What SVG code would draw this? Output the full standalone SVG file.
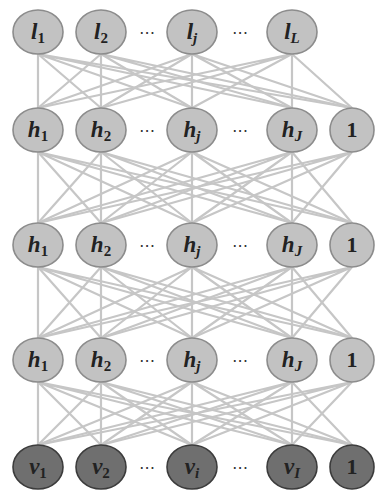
<svg xmlns="http://www.w3.org/2000/svg" width="378" height="491" viewBox="0 0 378 491">
  <style>
    .edge { stroke: #c6c6c6; stroke-width: 2.2; fill: none; }
    .hid ellipse { fill: #c2c2c2; stroke: #8c8c8c; stroke-width: 1.6; }
    .vis ellipse { fill: #6f6f6f; stroke: #3c3c3c; stroke-width: 1.6; }
    .lbl { font-family: "Liberation Serif", "DejaVu Serif", serif; font-style: italic; font-weight: bold; font-size: 23px; fill: #222; text-anchor: middle; }
    .one { font-family: "Liberation Serif", "DejaVu Serif", serif; font-weight: bold; font-size: 22px; fill: #222; text-anchor: middle; }
    .sub { font-size: 15px; }
    .num { font-style: normal; }
    .dots { font-family: "DejaVu Sans", sans-serif; font-size: 16px; fill: #333; text-anchor: middle; }
  </style>
  <rect width="378" height="491" fill="#ffffff"/>

  <!-- connectors: every unit of one layer to every unit of the next (bias not linked to bias) -->
  <g id="connectors">
    <!-- l layer to first h layer -->
    <path class="edge" d="M38 54L38 108M38 54L101 108M38 54L192 108M38 54L292 108M38 54L352 108"/>
    <path class="edge" d="M101 54L38 108M101 54L101 108M101 54L192 108M101 54L292 108M101 54L352 108"/>
    <path class="edge" d="M192 54L38 108M192 54L101 108M192 54L192 108M192 54L292 108M192 54L352 108"/>
    <path class="edge" d="M292 54L38 108M292 54L101 108M292 54L192 108M292 54L292 108M292 54L352 108"/>
    <!-- h layer 1 to h layer 2 -->
    <path class="edge" d="M38 152L38 223M38 152L101 223M38 152L192 223M38 152L292 223M38 152L352 223"/>
    <path class="edge" d="M101 152L38 223M101 152L101 223M101 152L192 223M101 152L292 223M101 152L352 223"/>
    <path class="edge" d="M192 152L38 223M192 152L101 223M192 152L192 223M192 152L292 223M192 152L352 223"/>
    <path class="edge" d="M292 152L38 223M292 152L101 223M292 152L192 223M292 152L292 223M292 152L352 223"/>
    <path class="edge" d="M352 152L38 223M352 152L101 223M352 152L192 223M352 152L292 223"/>
    <!-- h layer 2 to h layer 3 -->
    <path class="edge" d="M38 267L38 338M38 267L101 338M38 267L192 338M38 267L292 338M38 267L352 338"/>
    <path class="edge" d="M101 267L38 338M101 267L101 338M101 267L192 338M101 267L292 338M101 267L352 338"/>
    <path class="edge" d="M192 267L38 338M192 267L101 338M192 267L192 338M192 267L292 338M192 267L352 338"/>
    <path class="edge" d="M292 267L38 338M292 267L101 338M292 267L192 338M292 267L292 338M292 267L352 338"/>
    <path class="edge" d="M352 267L38 338M352 267L101 338M352 267L192 338M352 267L292 338"/>
    <!-- h layer 3 to visible layer -->
    <path class="edge" d="M38 382L38 445M38 382L101 445M38 382L192 445M38 382L292 445M38 382L352 445"/>
    <path class="edge" d="M101 382L38 445M101 382L101 445M101 382L192 445M101 382L292 445M101 382L352 445"/>
    <path class="edge" d="M192 382L38 445M192 382L101 445M192 382L192 445M192 382L292 445M192 382L352 445"/>
    <path class="edge" d="M292 382L38 445M292 382L101 445M292 382L192 445M292 382L292 445M292 382L352 445"/>
    <path class="edge" d="M352 382L38 445M352 382L101 445M352 382L192 445M352 382L292 445"/>
  </g>

  <!-- top layer l -->
  <g id="l1" class="hid"><ellipse cx="38" cy="32" rx="25" ry="22"/><text class="lbl" x="38" y="39">l<tspan class="sub num" dy="4">1</tspan></text></g>
  <g id="l2" class="hid"><ellipse cx="101" cy="32" rx="25" ry="22"/><text class="lbl" x="101" y="39">l<tspan class="sub num" dy="4">2</tspan></text></g>
  <g id="lj" class="hid"><ellipse cx="192" cy="32" rx="25" ry="22"/><text class="lbl" x="192" y="39">l<tspan class="sub" dy="4">j</tspan></text></g>
  <g id="lL" class="hid"><ellipse cx="292" cy="32" rx="25" ry="22"/><text class="lbl" x="292" y="39">l<tspan class="sub" dy="4">L</tspan></text></g>
  <text class="dots" x="147" y="38">⋯</text>
  <text class="dots" x="240" y="38">⋯</text>

  <!-- hidden layer 1 -->
  <g id="h1-1" class="hid"><ellipse cx="38" cy="130" rx="25" ry="22"/><text class="lbl" x="38" y="137">h<tspan class="sub num" dy="4">1</tspan></text></g>
  <g id="h1-2" class="hid"><ellipse cx="101" cy="130" rx="25" ry="22"/><text class="lbl" x="101" y="137">h<tspan class="sub num" dy="4">2</tspan></text></g>
  <g id="h1-j" class="hid"><ellipse cx="192" cy="130" rx="25" ry="22"/><text class="lbl" x="192" y="137">h<tspan class="sub" dy="4">j</tspan></text></g>
  <g id="h1-J" class="hid"><ellipse cx="292" cy="130" rx="25" ry="22"/><text class="lbl" x="292" y="137">h<tspan class="sub" dy="4">J</tspan></text></g>
  <g id="h1-bias" class="hid"><ellipse cx="352" cy="130" rx="22" ry="22"/><text class="one" x="352" y="137">1</text></g>
  <text class="dots" x="147" y="136">⋯</text>
  <text class="dots" x="240" y="136">⋯</text>

  <!-- hidden layer 2 -->
  <g id="h2-1" class="hid"><ellipse cx="38" cy="245" rx="25" ry="22"/><text class="lbl" x="38" y="252">h<tspan class="sub num" dy="4">1</tspan></text></g>
  <g id="h2-2" class="hid"><ellipse cx="101" cy="245" rx="25" ry="22"/><text class="lbl" x="101" y="252">h<tspan class="sub num" dy="4">2</tspan></text></g>
  <g id="h2-j" class="hid"><ellipse cx="192" cy="245" rx="25" ry="22"/><text class="lbl" x="192" y="252">h<tspan class="sub" dy="4">j</tspan></text></g>
  <g id="h2-J" class="hid"><ellipse cx="292" cy="245" rx="25" ry="22"/><text class="lbl" x="292" y="252">h<tspan class="sub" dy="4">J</tspan></text></g>
  <g id="h2-bias" class="hid"><ellipse cx="352" cy="245" rx="22" ry="22"/><text class="one" x="352" y="252">1</text></g>
  <text class="dots" x="147" y="251">⋯</text>
  <text class="dots" x="240" y="251">⋯</text>

  <!-- hidden layer 3 -->
  <g id="h3-1" class="hid"><ellipse cx="38" cy="360" rx="25" ry="22"/><text class="lbl" x="38" y="367">h<tspan class="sub num" dy="4">1</tspan></text></g>
  <g id="h3-2" class="hid"><ellipse cx="101" cy="360" rx="25" ry="22"/><text class="lbl" x="101" y="367">h<tspan class="sub num" dy="4">2</tspan></text></g>
  <g id="h3-j" class="hid"><ellipse cx="192" cy="360" rx="25" ry="22"/><text class="lbl" x="192" y="367">h<tspan class="sub" dy="4">j</tspan></text></g>
  <g id="h3-J" class="hid"><ellipse cx="292" cy="360" rx="25" ry="22"/><text class="lbl" x="292" y="367">h<tspan class="sub" dy="4">J</tspan></text></g>
  <g id="h3-bias" class="hid"><ellipse cx="352" cy="360" rx="22" ry="22"/><text class="one" x="352" y="367">1</text></g>
  <text class="dots" x="147" y="366">⋯</text>
  <text class="dots" x="240" y="366">⋯</text>

  <!-- visible layer -->
  <g id="v1" class="vis"><ellipse cx="38" cy="467" rx="25" ry="22"/><text class="lbl" x="38" y="474">v<tspan class="sub num" dy="4">1</tspan></text></g>
  <g id="v2" class="vis"><ellipse cx="101" cy="467" rx="25" ry="22"/><text class="lbl" x="101" y="474">v<tspan class="sub num" dy="4">2</tspan></text></g>
  <g id="vi" class="vis"><ellipse cx="192" cy="467" rx="25" ry="22"/><text class="lbl" x="192" y="474">v<tspan class="sub" dy="4">i</tspan></text></g>
  <g id="vI" class="vis"><ellipse cx="292" cy="467" rx="25" ry="22"/><text class="lbl" x="292" y="474">v<tspan class="sub" dy="4">I</tspan></text></g>
  <g id="v-bias" class="vis"><ellipse cx="352" cy="467" rx="22" ry="22"/><text class="one" x="352" y="474">1</text></g>
  <text class="dots" x="147" y="473">⋯</text>
  <text class="dots" x="240" y="473">⋯</text>
</svg>
